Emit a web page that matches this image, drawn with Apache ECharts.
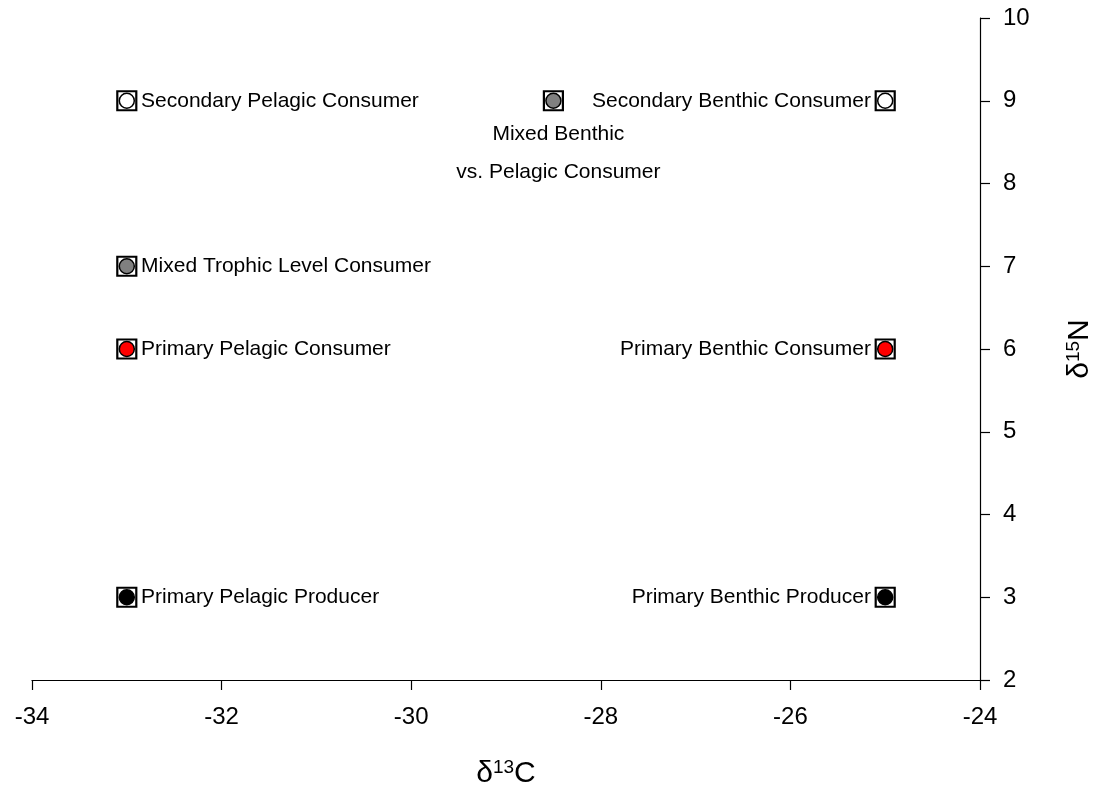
<!DOCTYPE html>
<html>
<head>
<meta charset="utf-8">
<style>
  html, body { margin: 0; padding: 0; background: #fff; }
  #chart { width: 1103px; height: 795px; }
</style>
<script src="https://cdn.jsdelivr.net/npm/echarts@6/dist/echarts.min.js"></script>
</head>
<body>
<div id="chart"></div>
<script>
// Idealised isotope positions of consumer / producer groups
const groupNames = [
  'Secondary Pelagic Consumer',
  'Mixed Benthic\nvs. Pelagic Consumer',
  'Secondary Benthic Consumer',
  'Mixed Trophic Level Consumer',
  'Primary Pelagic Consumer',
  'Primary Benthic Consumer',
  'Primary Pelagic Producer',
  'Primary Benthic Producer'
];
const d13C = [-33, -28.5, -25, -33, -33, -25, -33, -25];
const d15N = [9, 9, 9, 7, 6, 6, 3, 3];
const fillColors = ['#ffffff', '#808080', '#ffffff', '#808080', '#ff0000', '#ff0000', '#000000', '#000000'];
const labelSides = ['right', 'bottom', 'left', 'right', 'right', 'left', 'right', 'left'];

const xTicks = { min: -34, max: -24, step: 2 };
const yTicks = { min: 2, max: 10, step: 1 };

const FONT = '"Liberation Sans", Arial, Helvetica, sans-serif';

const circleData = groupNames.map((name, i) => {
  const side = labelSides[i];
  const lab = { show: true, position: side, formatter: name, color: '#000', fontSize: 21, fontFamily: FONT, opacity: 1 };
  if (side === 'bottom') {
    lab.distance = 6; lab.lineHeight = 38; lab.align = 'center'; lab.offset = [5, 0];
  } else {
    lab.distance = 6;
  }
  return {
    name: name,
    value: [d13C[i], d15N[i]],
    itemStyle: { color: fillColors[i], opacity: 1 },
    label: lab
  };
});
const boxData = d13C.map((x, i) => [x, d15N[i]]);

const richName = {
  d: { fontSize: 30, fontFamily: FONT, color: '#000', verticalAlign: 'bottom' },
  s: { fontSize: 19, fontFamily: FONT, color: '#000', verticalAlign: 'top', padding: [0, 0, 12, 0] }
};

const chart = echarts.init(document.getElementById('chart'), null, { renderer: 'canvas' });
chart.setOption({
  backgroundColor: '#fff',
  animation: false,
  textStyle: { fontFamily: FONT, color: '#000' },
  grid: { left: 32, right: 121, top: 18, bottom: 115, containLabel: false },
  xAxis: {
    type: 'value', min: xTicks.min, max: xTicks.max, interval: xTicks.step,
    splitLine: { show: false },
    axisLine: { show: true, onZero: false, lineStyle: { color: '#000', width: 1.2 } },
    axisTick: { show: true, inside: false, length: 10, lineStyle: { color: '#000', width: 1.2 } },
    axisLabel: { color: '#000', fontSize: 24, fontFamily: FONT, margin: 25 },
    name: '{d|δ}{s|13}{d|C}',
    nameLocation: 'middle', nameGap: 78,
    nameTextStyle: { rich: richName }
  },
  yAxis: {
    type: 'value', position: 'right', min: yTicks.min, max: yTicks.max, interval: yTicks.step,
    splitLine: { show: false },
    axisLine: { show: true, onZero: false, lineStyle: { color: '#000', width: 1.2 } },
    axisTick: { show: true, inside: false, length: 10, lineStyle: { color: '#000', width: 1.2 } },
    axisLabel: { color: '#000', fontSize: 24, fontFamily: FONT, margin: 23 },
    name: '{d|δ}{s|15}{d|N}',
    nameLocation: 'middle', nameGap: 84, nameRotate: 90,
    nameTextStyle: { rich: richName }
  },
  series: [
    {
      // square error-bar box around each mean
      type: 'scatter', data: boxData, symbol: 'rect', symbolSize: 19, z: 2,
      itemStyle: { color: 'rgba(0,0,0,0)', borderColor: '#000', borderWidth: 2.2, opacity: 1 },
      silent: true
    },
    {
      type: 'scatter', data: circleData, symbol: 'circle', symbolSize: 15, z: 3,
      itemStyle: { borderColor: '#000', borderWidth: 1.5, opacity: 1 }
    }
  ]
});
</script>
</body>
</html>
